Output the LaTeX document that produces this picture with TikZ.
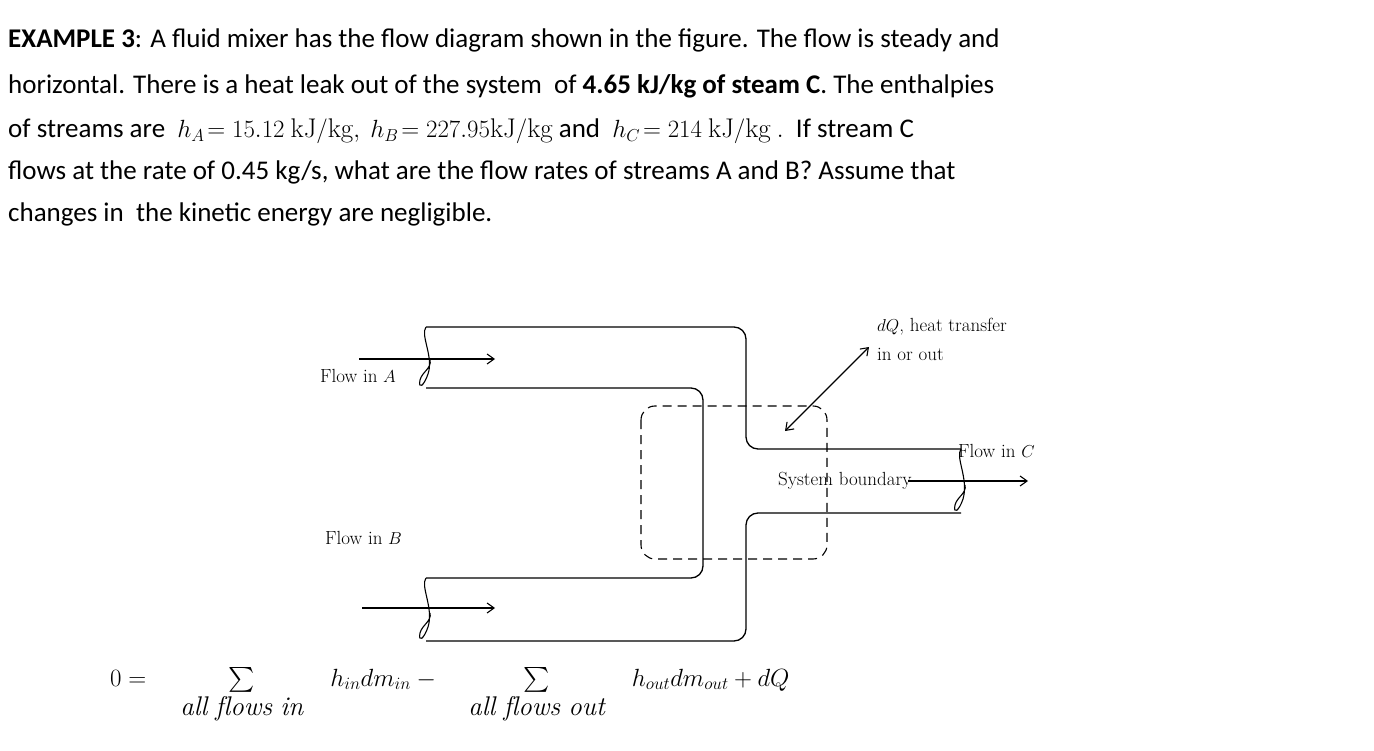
\documentclass[tikz,border=0pt]{standalone}
\usepackage{fontspec}
\usepackage{amsmath}
\usetikzlibrary{arrows.meta}
\newfontfamily\calfont{Carlito}
\begin{document}
\begin{tikzpicture}[x=1pt,y=-1pt,
  pipe/.style={line width=1.3pt,rounded corners=12pt},
  flow/.style={line width=1.1pt,-{Straight Barb[length=7pt,width=10pt]}},
  para/.style={anchor=base west,inner sep=0pt,font=\calfont\fontsize{27}{32}\selectfont},
  lbl/.style={anchor=base west,inner sep=0pt,font=\fontsize{19}{22}\selectfont},
  brk/.style={line width=1.1pt}]
\useasboundingbox (0,0) rectangle (1374,751);
% text
\node[para] (l1) at (8,48) {\textbf{EXAMPLE 3}: A fluid mixer has the flow diagram shown in the figure. The flow is steady and};
\node[para] (l2) at (8,94) {horizontal. There is a heat leak out of the system\ \ of \textbf{4.65 kJ/kg of steam C}. The enthalpies};
\node[para] (l3) at (8,138) {of streams are\ \ $h_A\!=15.12\ \mathrm{kJ/kg},\ h_B\!=227.95\mathrm{kJ/kg}$ and\ \ $h_C\!=214\ \mathrm{kJ/kg}\ .$\ \ If stream C};
\node[para] (l4) at (8,180) {flows at the rate of 0.45 kg/s, what are the flow rates of streams A and B? Assume that};
\node[para] (l5) at (8,222) {changes in\ \ the kinetic energy are negligible.};
% pipes
\draw[pipe] (426,327) -- (746,327) -- (746,449) -- (961,449);
\draw[pipe] (426,388) -- (703,388) -- (703,578) -- (426,578);
\draw[pipe] (426,641) -- (746,641) -- (746,513) -- (961,513);
% break marks
\foreach \x/\a/\b in {426/327/388, 426/578/641, 961/449/513}{
  \draw[brk] (\x,\a) .. controls (\x-6,\a+8) and (\x+8,\a+30) .. (\x+2,\b-14)
     .. controls (\x-2,\b-2) and (\x-8,\b+2) .. (\x-6,\b-8)
     .. controls (\x-4,\b-16) and (\x+6,\b-20) .. (\x+4,\b-28);
}
% flows
\coordinate (a0) at (359,359); \coordinate (a1) at (495,359);
\coordinate (b0) at (362,608); \coordinate (b1) at (495,608);
\coordinate (c0) at (908,481); \coordinate (c1) at (1028,481);
\draw[flow] (a0) -- (a1);
\draw[flow] (b0) -- (b1);
\draw[flow] (c0) -- (c1);
% boundary
\draw[line width=1.1pt,dash pattern=on 9pt off 6pt,rounded corners=14pt] (641,406) rectangle (827,559);
% dQ
\coordinate (q0) at (785,431); \coordinate (q1) at (869,347);
\draw[line width=1.1pt,{Straight Barb[length=7pt,width=10pt]}-{Straight Barb[length=7pt,width=10pt]}] (q0) -- (q1);
% labels
\node[lbl] (tq) at (877,332) {$dQ$, heat transfer};
\node[lbl] (tq2) at (877,361) {in or out};
\node[lbl] (ta) at (320,382) {Flow in $A$};
\node[lbl] (tc) at (958,457) {Flow in $C$};
\node[lbl] (ts) at (778,485) {System boundary};
\node[lbl] (tb) at (325,544) {Flow in $B$};
% equation
\node[anchor=base west,inner sep=0pt,font=\fontsize{27}{32}\selectfont] (eq) at (110,686)
 {$0=\quad\underset{\textstyle\mathit{all\ flows\ in}}{\sum}\quad h_{in}dm_{in}-\quad\underset{\textstyle\mathit{all\ flows\ out}}{\sum}\quad h_{out}dm_{out}+dQ$};
\end{tikzpicture}
\end{document}
